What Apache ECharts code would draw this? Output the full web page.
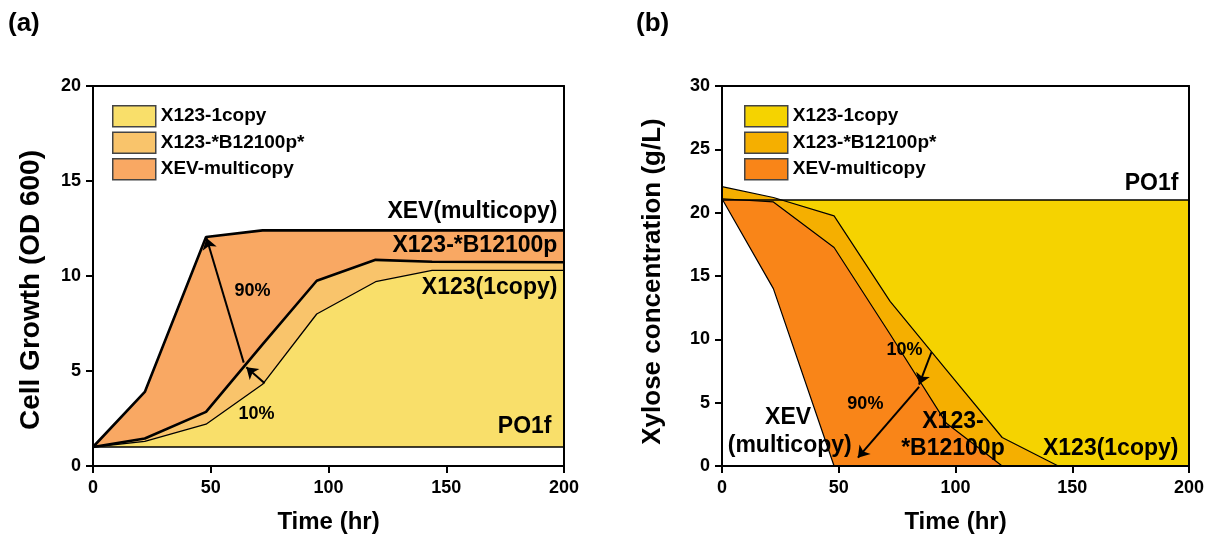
<!DOCTYPE html>
<html>
<head>
<meta charset="utf-8">
<script src="https://cdn.jsdelivr.net/npm/echarts@6/dist/echarts.min.js"></script>
<style>
html, body { margin: 0; padding: 0; background: #fff; }
#chart { width: 1205px; height: 538px; }
</style>
</head>
<body>
<div id="chart"></div>
<script>
// (a) cell growth
var timeA = [0, 22, 48, 72, 95, 120, 144, 200];
var po1fA = [1, 1, 1, 1, 1, 1, 1, 1];
var x123A = [1.0, 1.3, 2.2, 4.3, 8.0, 9.7, 10.3, 10.3];
var b12100A = [1.0, 1.45, 2.85, 6.4, 9.75, 10.85, 10.75, 10.72];
var xevA = [1.0, 3.9, 12.05, 12.4, 12.4, 12.4, 12.4, 12.4];

// (b) xylose
var timeB = [0, 22, 48, 72, 96, 120, 144, 200];
var po1fB = [21, 21, 21, 21, 21, 21, 21, 21];
var x123B = [22.05, 21.2, 19.75, 13.0, 7.6, 2.25, 0, 0];
var b12100B = [21.1, 20.85, 17.25, 10.4, 3.4, 0, 0, 0];
var xevB = [21.1, 14.0, 0, 0, 0, 0, 0, 0];

var legendNames = ['X123-1copy', 'X123-*B12100p*', 'XEV-multicopy'];
var colorsA = ['#F9DF6A', '#F9C46B', '#F9A863'];
var colorsB = ['#F5D300', '#F5AF00', '#F98518'];

var FONT = 'Liberation Sans, Arial, sans-serif';

function pairs(t, v) {
	var out = [];
	for (var i = 0; i < t.length; i++) out.push([t[i], v[i]]);
	return out;
}

function area(name, idx, t, v, fill, lw) {
	return {
		name: name,
		type: 'line',
		xAxisIndex: idx * 2,
		yAxisIndex: idx * 2,
		data: pairs(t, v),
		showSymbol: false,
		symbol: 'none',
		lineStyle: { color: '#000', width: lw },
		itemStyle: { color: fill },
		areaStyle: { color: fill, opacity: 1 },
		silent: true,
		z: 2
	};
}

function note(coord, text, pos, size) {
	return {
		coord: coord,
		symbol: 'rect',
		symbolSize: 1,
		itemStyle: { color: 'rgba(0,0,0,0)' },
		label: {
			show: true, formatter: text, position: pos, distance: 0,
			color: '#000', fontSize: size, fontWeight: 'bold', fontFamily: FONT
		}
	};
}

function arrow(from, to) {
	return [{ coord: from }, { coord: to }];
}

var markA = {
	silent: true,
	symbol: 'rect', symbolSize: 1,
	data: [
		note([197.4, 13.38], 'XEV(multicopy)', 'left', 23),
		note([197.4, 11.6], 'X123-*B12100p', 'left', 23),
		note([197.4, 9.4], 'X123(1copy)', 'left', 23),
		note([194.9, 2.07], 'PO1f', 'left', 23),
		note([67.7, 9.23], '90%', 'inside', 18),
		note([69.4, 2.72], '10%', 'inside', 18)
	]
};
var arrowsA = {
	silent: true,
	symbol: ['none', 'arrow'],
	symbolSize: 11,
	lineStyle: { color: '#000', width: 2, type: 'solid' },
	label: { show: false },
	data: [
		arrow([72.9, 4.35], [65.1, 5.2]),
		arrow([64.0, 5.44], [48.2, 12.0])
	]
};

var markB = {
	silent: true,
	symbol: 'rect', symbolSize: 1,
	data: [
		note([195.7, 22.26], 'PO1f', 'left', 23),
		note([195.7, 1.37], 'X123(1copy)', 'left', 23),
		note([98.9, 3.54], 'X123-', 'inside', 23),
		note([98.9, 1.37], '*B12100p', 'inside', 23),
		note([28.3, 3.81], 'XEV', 'inside', 23),
		note([29.0, 1.57], '(multicopy)', 'inside', 23),
		note([78.2, 9.13], '10%', 'inside', 18),
		note([61.4, 4.86], '90%', 'inside', 18)
	]
};
var arrowsB = {
	silent: true,
	symbol: ['none', 'arrow'],
	symbolSize: 11,
	lineStyle: { color: '#000', width: 2, type: 'solid' },
	label: { show: false },
	data: [
		arrow([89.7, 8.98], [84.4, 6.43]),
		arrow([84.4, 6.25], [58.2, 0.66])
	]
};

var seriesA = [
	area('XEV-multicopy', 0, timeA, xevA, colorsA[2], 2.6),
	area('X123-*B12100p*', 0, timeA, b12100A, colorsA[1], 2.6),
	area('X123-1copy', 0, timeA, x123A, colorsA[0], 1.3),
	area('PO1f', 0, timeA, po1fA, '#ffffff', 1.7)
];
seriesA[3].markPoint = markA;
seriesA[3].markLine = arrowsA;

var seriesB = [
	area('PO1f', 1, timeB, po1fB, colorsB[0], 1.3),
	area('X123-1copy', 1, timeB, x123B, colorsB[1], 1.2),
	area('X123-*B12100p*', 1, timeB, b12100B, colorsB[2], 1.2),
	area('XEV-multicopy', 1, timeB, xevB, '#ffffff', 1.2)
];
seriesB[3].markPoint = markB;
seriesB[3].markLine = arrowsB;

function xMain(grid) {
	return {
		type: 'value', gridIndex: grid, min: 0, max: 200, interval: 50, z: 10,
		name: 'Time (hr)', nameLocation: 'middle', nameGap: 44,
		nameTextStyle: { color: '#000', fontSize: 24, fontWeight: 'bold', fontFamily: FONT },
		axisLine: { show: true, lineStyle: { color: '#000', width: 2 } },
		axisTick: { show: true, length: 7, lineStyle: { color: '#000', width: 2 } },
		axisLabel: { color: '#000', fontSize: 18, fontWeight: 'bold', fontFamily: FONT, margin: 13 },
		splitLine: { show: false }
	};
}
function yMain(grid, max, name, size, gap, shift) {
	return {
		type: 'value', gridIndex: grid, min: 0, max: max, interval: 5, z: 10,
		name: name, nameLocation: 'middle', nameGap: gap,
		nameTextStyle: { color: '#000', fontSize: size, fontWeight: 'bold', fontFamily: FONT, padding: [0, shift, 0, 0] },
		axisLine: { show: true, lineStyle: { color: '#000', width: 2 } },
		axisTick: { show: true, length: 7, lineStyle: { color: '#000', width: 2 } },
		axisLabel: { color: '#000', fontSize: 18, fontWeight: 'bold', fontFamily: FONT, margin: 12 },
		splitLine: { show: false }
	};
}
function frame(type, grid, pos, max) {
	return {
		type: 'value', gridIndex: grid, position: pos, min: 0, max: max, z: 10,
		axisLine: { show: true, onZero: false, lineStyle: { color: '#000', width: 2 } },
		axisTick: { show: false }, axisLabel: { show: false }, splitLine: { show: false }
	};
}

function legendFor(left, colors) {
	return {
		left: left, top: 100, orient: 'vertical',
		icon: 'rect', itemWidth: 43, itemHeight: 21, itemGap: 4,
		selectedMode: false,
		textStyle: { color: '#000', fontSize: 19, fontWeight: 'bold', fontFamily: FONT },
		data: legendNames.map(function (n, i) {
			return { name: n, icon: 'rect', itemStyle: { color: colors[i], borderColor: '#444', borderWidth: 1.5, opacity: 1 } };
		})
	};
}

var chart = echarts.init(document.getElementById('chart'), null, { renderer: 'canvas' });

var option = {
	animation: false,
	backgroundColor: '#fff',
	grid: [
		{ left: 93, right: 641, top: 86, bottom: 72, containLabel: false, outerBoundsMode: 'none' },
		{ left: 722, right: 16, top: 86, bottom: 72, containLabel: false, outerBoundsMode: 'none' }
	],
	xAxis: [xMain(0), frame('x', 0, 'top', 200), xMain(1), frame('x', 1, 'top', 200)],
	yAxis: [
		yMain(0, 20, 'Cell Growth (OD 600)', 28, 48, 28), frame('y', 0, 'right', 20),
		yMain(1, 30, 'Xylose concentration (g/L)', 26, 56, 11), frame('y', 1, 'right', 30)
	],
	legend: [legendFor(107, colorsA), legendFor(739, colorsB)],
	graphic: [
		{ type: 'text', left: 8, top: 11, style: { text: '(a)', fontSize: 26, fontWeight: 'bold', fontFamily: FONT, fill: '#000' } },
		{ type: 'text', left: 636, top: 11, style: { text: '(b)', fontSize: 26, fontWeight: 'bold', fontFamily: FONT, fill: '#000' } }
	],
	series: seriesA.concat(seriesB)
};

chart.setOption(option);

window.addEventListener('resize', function () {
	chart.resize();
});
</script>
</body>
</html>
